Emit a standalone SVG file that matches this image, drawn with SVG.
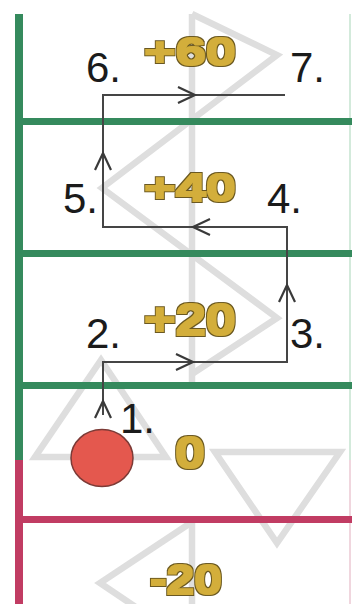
<svg xmlns="http://www.w3.org/2000/svg" xmlns:xlink="http://www.w3.org/1999/xlink" width="352" height="604" viewBox="0 0 352 604">
<style>
.ghost{fill:none;stroke:#dedede;stroke-width:6.5;stroke-linejoin:miter;stroke-linecap:butt}
.gbar{fill:#358a5d}
.rbar{fill:#c13c63}
.lbl{font-family:"Liberation Sans",Arial,sans-serif;font-size:42px;fill:#1b1b1b}
.val{font-family:"Liberation Sans",Arial,sans-serif;font-weight:bold;fill:#d3ae3b;filter:url(#fat)}
.path{fill:none;stroke:#454545;stroke-width:2}
</style>
<defs>
<path id="chev" d="M-8,-17 L0,0 L8,-17" fill="none" stroke="#3a3a3a" stroke-width="2.2"/>
<filter id="fat" x="-10%" y="-20%" width="120%" height="140%">
<feMorphology in="SourceGraphic" operator="dilate" radius="1.2" result="body"/>
<feMorphology in="SourceAlpha" operator="dilate" radius="2.4" result="edge"/>
<feFlood flood-color="#6a5820"/>
<feComposite in2="edge" operator="in" result="outline"/>
<feMerge><feMergeNode in="outline"/><feMergeNode in="body"/></feMerge>
</filter>
</defs>
<rect width="352" height="604" fill="#ffffff"/>
<g id="background">
<polyline class="ghost" points="192,14 277,55 102,188 277,318 192,374"/>
<line class="ghost" x1="192" y1="14" x2="192" y2="386"/>
<polygon class="ghost" points="101,360 35,457 166,457"/>
<polygon class="ghost" points="215,452 340,452 277,543"/>
<polyline class="ghost" points="192,522 100,583 192,645"/>
<line class="ghost" x1="192" y1="520" x2="192" y2="604"/>
<line x1="350" y1="14" x2="350" y2="460" stroke="#d3eadb" stroke-width="2"/>
<line x1="350" y1="460" x2="350" y2="604" stroke="#f0d6de" stroke-width="2"/>
</g>
<g id="bars">
<rect class="gbar" x="15" y="14" width="8" height="446"/>
<rect class="rbar" x="15" y="460" width="8" height="144"/>
<rect class="gbar" x="15" y="118" width="337" height="7"/>
<rect class="gbar" x="15" y="250" width="337" height="7"/>
<rect class="gbar" x="15" y="382" width="337" height="7"/>
<rect class="rbar" x="15" y="516" width="337" height="7"/>
</g>
<g id="connectors">
<path class="path" d="M103,415 V362 H287 V227 H103 V95 H285"/>
<use xlink:href="#chev" transform="translate(103,401) rotate(180)"/>
<use xlink:href="#chev" transform="translate(193,362) rotate(-90)"/>
<use xlink:href="#chev" transform="translate(287,285) rotate(180)"/>
<use xlink:href="#chev" transform="translate(193,227) rotate(90)"/>
<use xlink:href="#chev" transform="translate(103,153) rotate(180)"/>
<use xlink:href="#chev" transform="translate(195,95) rotate(-90)"/>
</g>
<g id="ball">
<ellipse cx="102" cy="458" rx="31" ry="28.5" fill="#e4584e" stroke="#7c3a36" stroke-width="1.5"/>
</g>
<g id="labels">
<text class="lbl" x="86" y="82">6.</text>
<text class="lbl" x="290" y="82">7.</text>
<text class="lbl" x="63" y="213">5.</text>
<text class="lbl" x="267" y="213">4.</text>
<text class="lbl" x="86" y="348">2.</text>
<text class="lbl" x="290" y="348">3.</text>
<text class="lbl" x="120" y="433">1.</text>
</g>
<g id="values">
<text class="val" x="144" y="65" font-size="39" textLength="92" lengthAdjust="spacingAndGlyphs">+60</text>
<text class="val" x="144" y="201" font-size="39" textLength="92" lengthAdjust="spacingAndGlyphs">+40</text>
<text class="val" x="144" y="335" font-size="44" textLength="92" lengthAdjust="spacingAndGlyphs">+20</text>
<text class="val" x="175" y="468" font-size="45" textLength="30" lengthAdjust="spacingAndGlyphs">0</text>
<text class="val" x="150" y="594" font-size="42" textLength="72" lengthAdjust="spacingAndGlyphs">-20</text>
</g>
</svg>
